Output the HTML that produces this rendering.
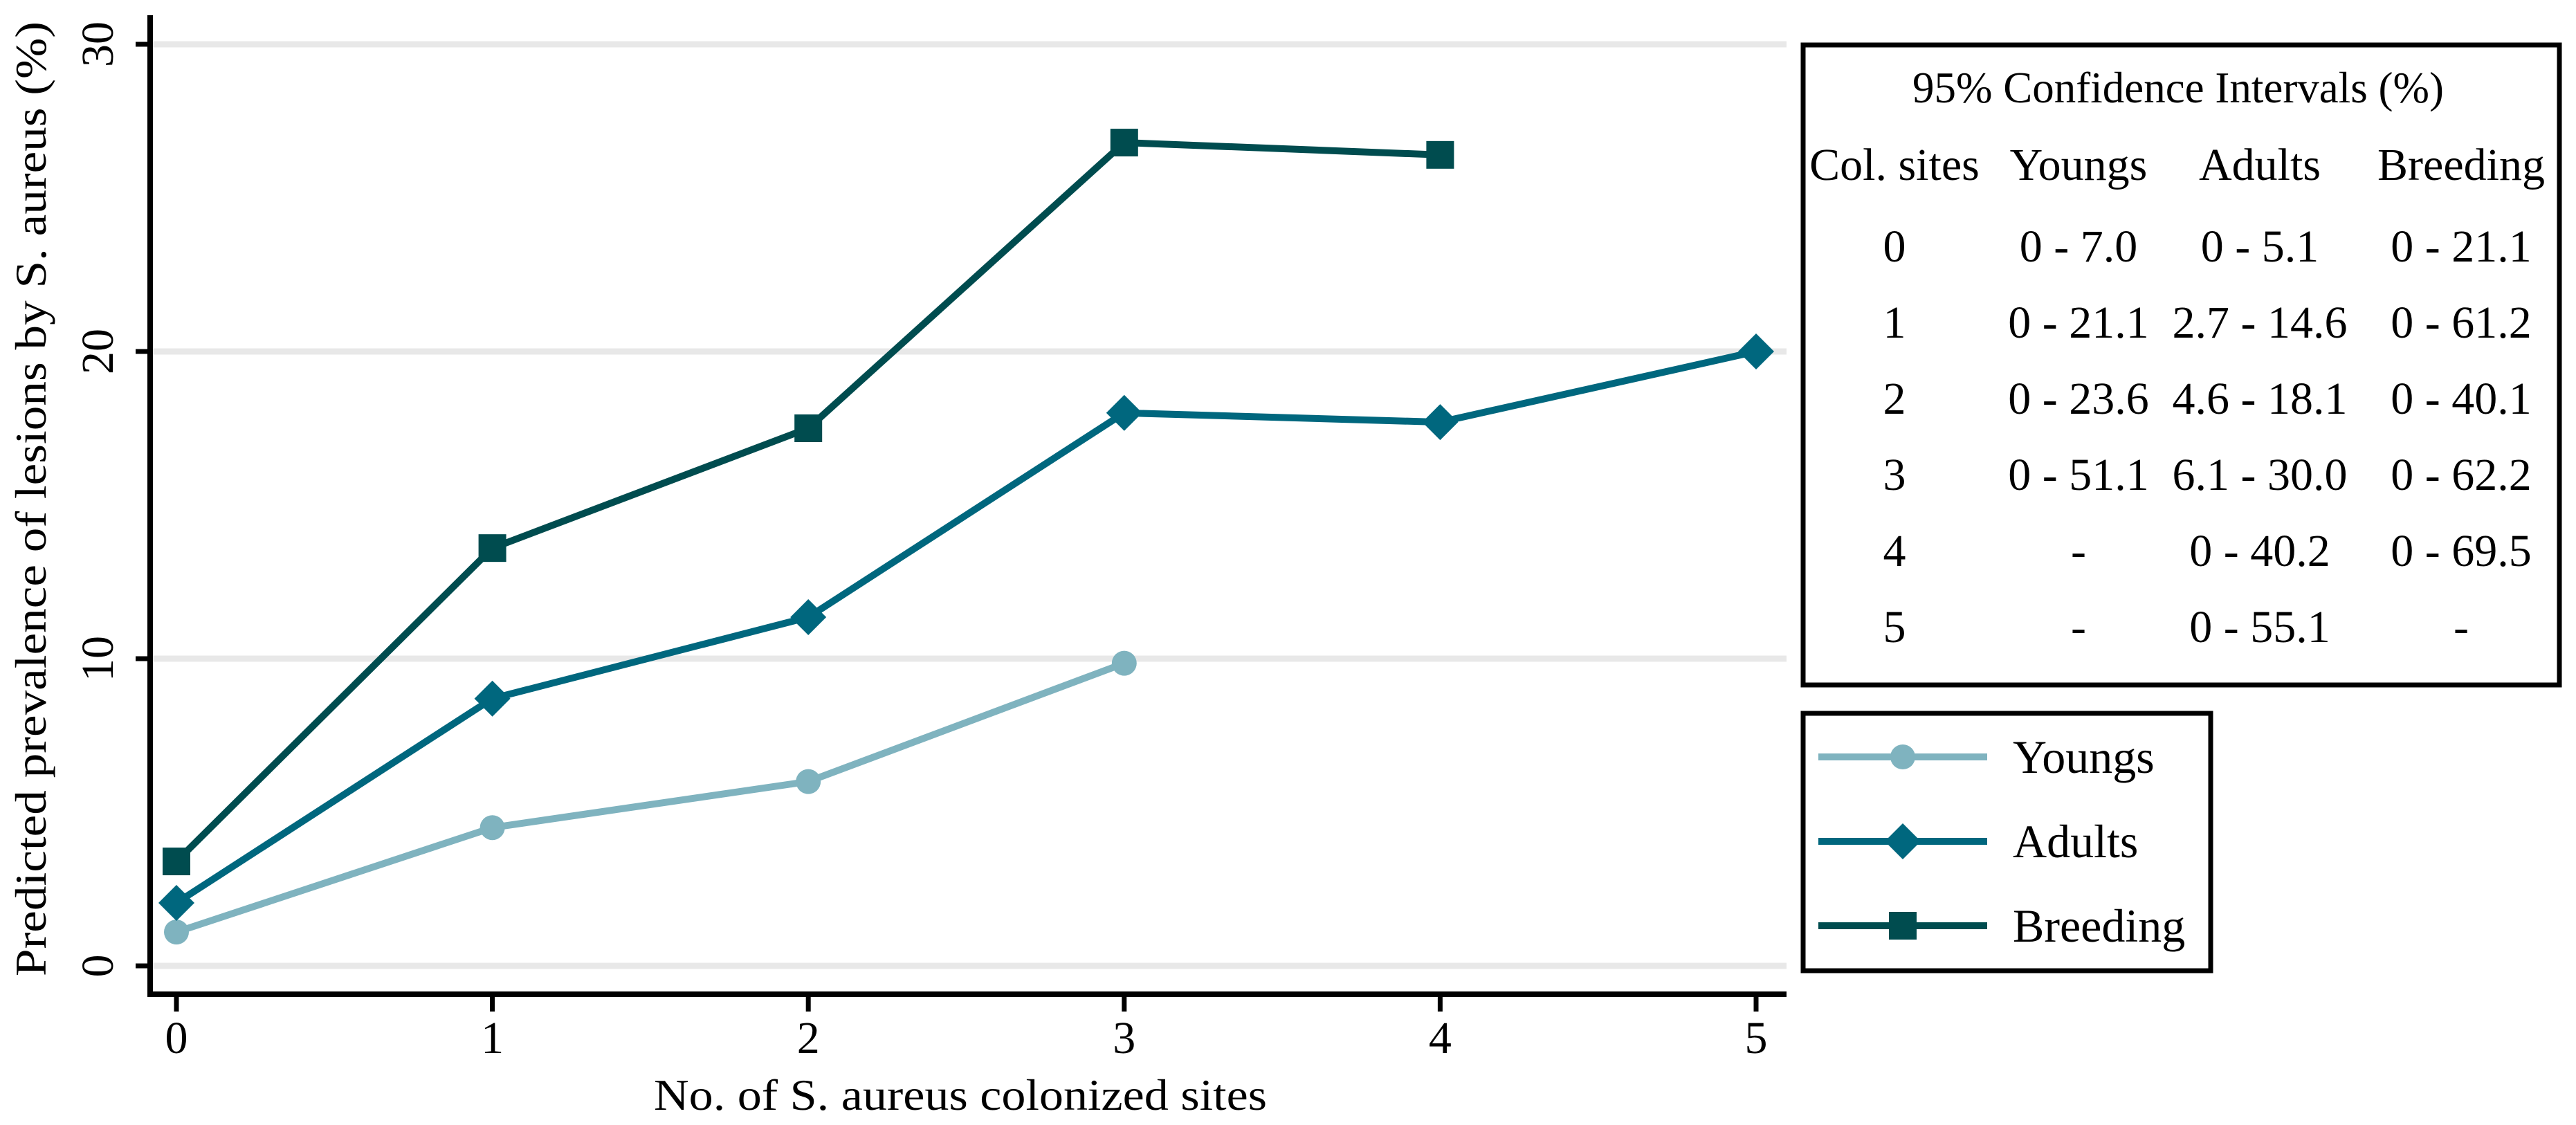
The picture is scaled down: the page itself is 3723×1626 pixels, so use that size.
<!DOCTYPE html>
<html><head><meta charset="utf-8"><style>
html,body{margin:0;padding:0;background:#fff;}
svg{display:block;font-family:"Liberation Serif",serif;}
</style></head><body>
<svg id="chart" width="3723" height="1626" viewBox="0 0 3723 1626">
<g id="grid"></g>
<g id="series"></g>
<g id="axes"></g>
<text transform="translate(66,721) rotate(-90)" text-anchor="middle" font-size="64" textLength="1380" lengthAdjust="spacingAndGlyphs">Predicted prevalence of lesions by S. aureus (%)</text>
<text x="1388" y="1604" text-anchor="middle" font-size="64" textLength="886" lengthAdjust="spacingAndGlyphs">No. of S. aureus colonized sites</text>
<g>
<rect x="2606" y="65" width="1093" height="925" fill="#fff" stroke="#000" stroke-width="7"/>
<text x="3148" y="148" text-anchor="middle" font-size="63">95% Confidence Intervals (%)</text>
<g id="tbl" font-size="66" text-anchor="middle"></g>
</g>
<g>
<rect x="2606" y="1031" width="589" height="372" fill="#fff" stroke="#000" stroke-width="7"/>
<g id="leg"></g>
</g>
</svg>
<script>
const xValues=[0,1,2,3,4,5];
const youngs=[1.1,4.5,6.0,9.85];
const adults=[2.05,8.7,11.35,18.0,17.7,20.0];
const breeding=[3.4,13.6,17.5,26.8,26.4];
const yTicks=[0,10,20,30];
const xTicks=[0,1,2,3,4,5];
const tableHeader=["Col. sites","Youngs","Adults","Breeding"];
const tableRows=[["0","0 - 7.0","0 - 5.1","0 - 21.1"],["1","0 - 21.1","2.7 - 14.6","0 - 61.2"],["2","0 - 23.6","4.6 - 18.1","0 - 40.1"],["3","0 - 51.1","6.1 - 30.0","0 - 62.2"],["4","-","0 - 40.2","0 - 69.5"],["5","-","0 - 55.1","-"]];
const seriesNames=["Youngs","Adults","Breeding"];

const NS="http://www.w3.org/2000/svg";
const X=v=>255+v*456.6;
const Y=v=>1396-v*44.4;
function mk(tag,attrs,parent){const e=document.createElementNS(NS,tag);for(const k in attrs)e.setAttribute(k,attrs[k]);parent.appendChild(e);return e;}
const grid=document.getElementById('grid'),axes=document.getElementById('axes'),ser=document.getElementById('series');
yTicks.forEach(t=>{
 const g=mk('line',{x1:217,x2:2582,y1:Y(t),y2:Y(t),stroke:'#e8e8e8','stroke-width':9},grid);
 
 
 const tk=mk('line',{x1:196,x2:217,y1:Y(t),y2:Y(t),stroke:'#000','stroke-width':7},axes);
 
 
 const lb=mk('text',{transform:`translate(163,${Y(t)}) rotate(-90)`,'text-anchor':'middle','font-size':66},axes);
 lb.textContent=t;
 
 
});
xTicks.forEach(t=>{
 const tk=mk('line',{x1:X(t),x2:X(t),y1:1437,y2:1462,stroke:'#000','stroke-width':7},axes);
 
 
 const lb=mk('text',{x:X(t),y:1522,'text-anchor':'middle','font-size':66},axes);
 lb.textContent=t;
 
 
});
const ya=mk('line',{x1:217,x2:217,y1:22,y2:1441,stroke:'#000','stroke-width':8},axes);


const xa=mk('line',{x1:213,x2:2582,y1:1437,y2:1437,stroke:'#000','stroke-width':8},axes);



const cols={Youngs:'#7fb3bf',Adults:'#00677e',Breeding:'#004c4f'};
function marker(kind,cx,cy,color,parent){
 let m;
 if(kind==='Youngs')m=mk('circle',{cx,cy,r:18,fill:color},parent);
 else if(kind==='Adults')m=mk('polygon',{points:`${cx},${cy-26} ${cx+26},${cy} ${cx},${cy+26} ${cx-26},${cy}`,fill:color},parent);
 else m=mk('rect',{x:cx-20,y:cy-20,width:40,height:40,fill:color},parent);
 return m;
}
[[youngs,'Youngs'],[adults,'Adults'],[breeding,'Breeding']].forEach(([vals,name])=>{
 const g=mk('g',{},ser);
 
 
 const pts=vals.map((v,i)=>X(xValues[i])+','+Y(v)).join(' ');
 const pl=mk('polyline',{points:pts,fill:'none',stroke:cols[name],'stroke-width':10,'stroke-linejoin':'round'},g);
 
 
 vals.forEach((v,i)=>{
  const m=marker(name,X(xValues[i]),Y(v),cols[name],g);
  
  
 });
});

const tbl=document.getElementById('tbl');
const colX=[2738,3004,3266,3557];
tableHeader.forEach((h,i)=>{
 const t=mk('text',{x:colX[i],y:260},tbl);t.textContent=h;
 
 
});
tableRows.forEach((r,ri)=>r.forEach((c,ci)=>{
 const t=mk('text',{x:colX[ci],y:378+ri*110},tbl);t.textContent=c;
 
 
}));

const leg=document.getElementById('leg');
seriesNames.forEach((n,i)=>{
 const y=1094+i*122;
 const g=mk('g',{},leg);
 
 
 mk('line',{x1:2628,x2:2872,y1:y,y2:y,stroke:cols[n],'stroke-width':10},g);
 marker(n,2750,y,cols[n],g);
 const t=mk('text',{x:2909,y:y+23,'font-size':68},g);t.textContent=n;
});
</script>
</body></html>
